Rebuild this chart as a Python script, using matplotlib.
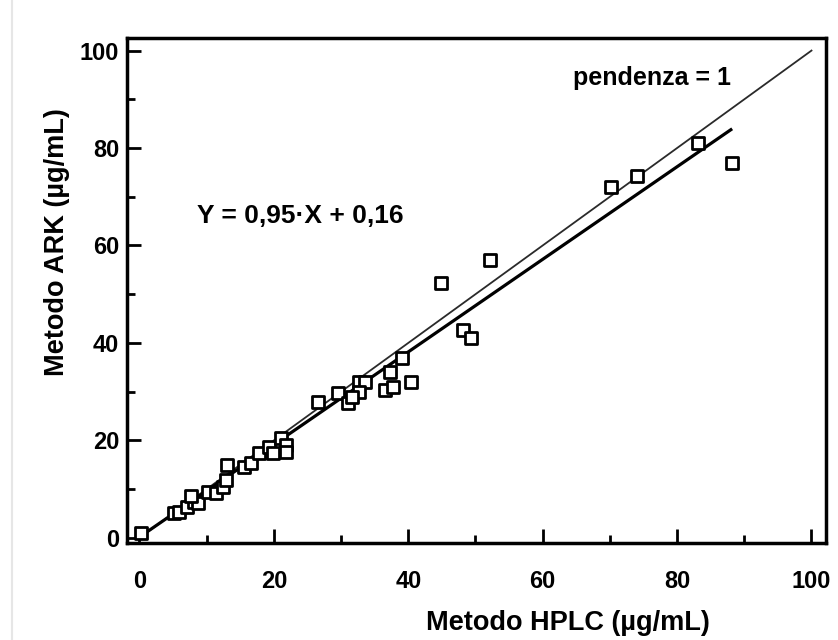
import matplotlib
matplotlib.use("Agg")
import matplotlib.pyplot as plt
from matplotlib.lines import Line2D
import numpy as np

plt.rcParams['font.family'] = ['Liberation Sans', 'DejaVu Sans']
plt.rcParams['font.weight'] = 'bold'
plt.rcParams['axes.labelweight'] = 'bold'

# Data
hplc = [0.3, 5.2, 5.9, 7.0, 8.1, 8.7, 7.7, 10.2, 11.4, 12.4, 12.9, 13.0, 15.6, 16.6,
        17.8, 19.3, 19.9, 21.0, 21.8, 21.8, 26.5, 29.5, 31.0, 32.6, 33.6, 32.6, 31.7,
        37.3, 36.6, 37.8, 40.4, 39.1, 44.9, 48.1, 49.3, 52.1, 70.2, 74.1, 83.1, 88.1]
ark = [1.0, 5.1, 5.3, 6.4, 7.4, 7.2, 8.6, 9.4, 9.2, 10.5, 11.9, 15.0, 14.5, 15.4,
       17.4, 18.6, 17.4, 20.5, 19.1, 17.6, 27.9, 29.7, 27.7, 32.0, 32.0, 29.9, 28.9,
       34.0, 30.3, 30.9, 32.0, 36.9, 52.3, 42.6, 41.0, 57.0, 72.1, 74.2, 81.1, 77.0]
slope, intercept = 0.95, 0.16
reg_x = [0, 88]
ident_x = [0, 100]
xticks = [0, 20, 40, 60, 80, 100]
yticks = [0, 20, 40, 60, 80, 100]

fig = plt.figure(figsize=(8.38, 6.4), dpi=100)
ax = fig.add_axes([0.152, 0.152, 0.834, 0.788])

ax.plot(ident_x, ident_x, color='#2a2a2a', lw=1.3, zorder=2)
rx = np.array(reg_x)
ax.plot(rx, slope * rx + intercept, color='black', lw=2.3, zorder=2)
ax.scatter(hplc, ark, marker='s', s=78, facecolors='white', edgecolors='black',
           linewidths=2.0, zorder=3)

ax.set_xlim(-1.8, 102.2)
ax.set_ylim(-1.0, 102.5)
ax.set_xticks(xticks)
ax.set_yticks(yticks)
ax.set_xticks(np.arange(10, 100, 20), minor=True)
ax.set_yticks(np.arange(10, 100, 20), minor=True)
ax.tick_params(which='major', direction='in', length=10, width=2, labelsize=17)
ax.tick_params(axis='x', which='major', pad=20)
ax.tick_params(axis='y', which='major', pad=6)
ax.tick_params(which='minor', direction='in', length=6, width=2)
for s in ax.spines.values():
    s.set_linewidth(2.5)

ax.set_xlabel('Metodo HPLC (µg/mL)', fontsize=19.5, labelpad=12, x=0.63)
ax.set_ylabel('Metodo ARK (µg/mL)', fontsize=19.5, labelpad=7, y=0.596)

ax.text(24, 66, 'Y = 0,95·X + 0,16', fontsize=19, ha='center', va='center')
ax.text(76.3, 94.3, 'pendenza = 1', fontsize=18, ha='center', va='center')

fig.add_artist(Line2D([12/838, 12/838], [0, 1], transform=fig.transFigure,
                      color='#e6e6e6', lw=1.5))

fig.savefig('out.png', dpi=100)
